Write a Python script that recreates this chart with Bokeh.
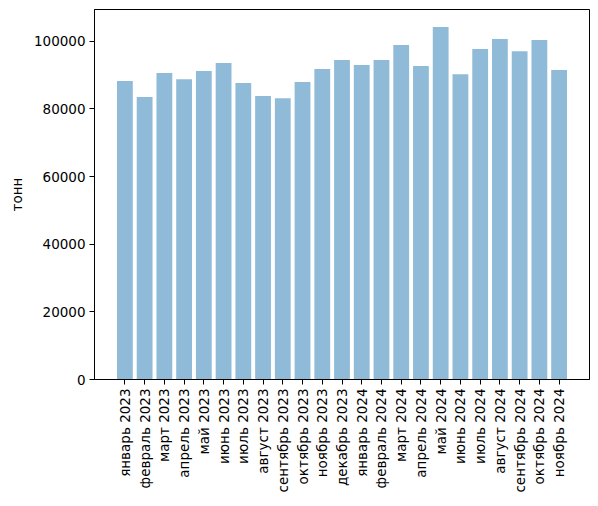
import numpy as np
from bokeh.plotting import figure
from bokeh.models import FixedTicker, NumeralTickFormatter, Range1d, ColumnDataSource
from bokeh.embed import file_html
from bokeh.resources import INLINE

months = ["январь 2023", "февраль 2023", "март 2023", "апрель 2023", "май 2023", "июнь 2023",
          "июль 2023", "август 2023", "сентябрь 2023", "октябрь 2023", "ноябрь 2023", "декабрь 2023",
          "январь 2024", "февраль 2024", "март 2024", "апрель 2024", "май 2024", "июнь 2024",
          "июль 2024", "август 2024", "сентябрь 2024", "октябрь 2024", "ноябрь 2024"]
values = [88300, 83500, 90600, 88800, 91200, 93600, 87700, 83800, 83200, 88000, 91800, 94500,
          93000, 94500, 98900, 92700, 104200, 90300, 97700, 100700, 97100, 100400, 91500]
y_ticks = [0, 20000, 40000, 60000, 80000, 100000]
y_label = "тонн"

idx = list(range(len(months)))
src = ColumnDataSource(dict(x=idx, top=values))

FONT = "DejaVu Sans"
p = figure(width=598, height=506, output_backend="svg", toolbar_location=None,
           min_border_left=94, min_border_right=9, min_border_top=9, min_border_bottom=127,
           x_range=Range1d(-1.54, len(months) - 1 + 1.54),
           y_range=Range1d(0, max(values) * 1.05))
p.vbar(x="x", top="top", width=0.8, source=src, fill_color="#1f77b4", fill_alpha=0.5, line_color=None)

p.xgrid.visible = False
p.ygrid.visible = False
p.outline_line_color = "black"
p.outline_line_alpha = 1
p.outline_line_width = 1

p.xaxis.ticker = FixedTicker(ticks=idx)
p.xaxis.major_label_overrides = {i: m for i, m in enumerate(months)}
p.xaxis.major_label_orientation = np.pi / 2
p.yaxis.ticker = FixedTicker(ticks=y_ticks)
p.yaxis.formatter = NumeralTickFormatter(format="0")
p.yaxis.axis_label = y_label

for ax in (p.xaxis[0], p.yaxis[0]):
    ax.axis_line_color = "black"
    ax.major_tick_line_color = "black"
    ax.major_tick_out = 5
    ax.major_tick_in = 0
    ax.minor_tick_line_color = None
    ax.major_label_text_font = FONT
    ax.major_label_text_font_size = "13.5px"
    ax.major_label_text_color = "black"
    ax.major_label_standoff = 4
    ax.axis_label_text_font = FONT
    ax.axis_label_text_font_size = "13.5px"
    ax.axis_label_text_font_style = "normal"
    ax.axis_label_text_color = "black"
p.yaxis.axis_label_standoff = 6

open("out.html", "w").write(file_html(p, INLINE))
